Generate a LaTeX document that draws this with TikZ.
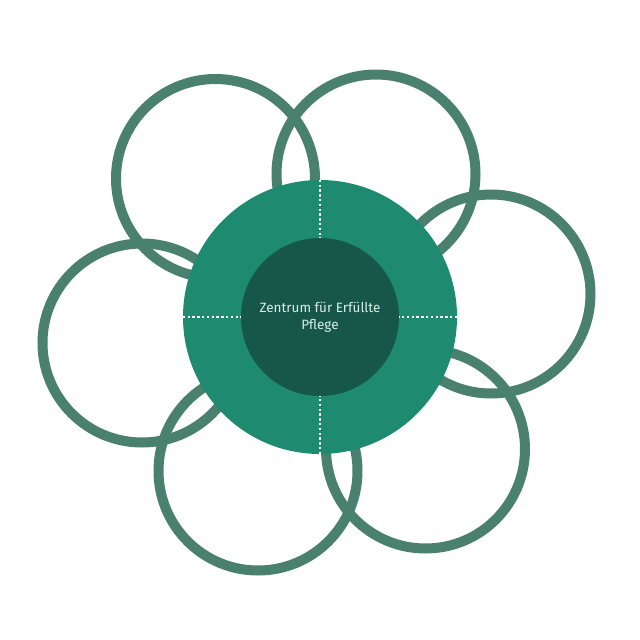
\documentclass[tikz,border=0pt]{standalone}
\usepackage{fontspec}
\setmainfont{Fira Sans}
\usepackage{tikz}

\definecolor{ringgreen}{HTML}{4A806E}
\definecolor{hubgreen}{HTML}{1E8A6F}
\definecolor{coregreen}{HTML}{17574A}
\definecolor{labelmint}{HTML}{D8EFE6}

\begin{document}
\begin{tikzpicture}[
        x=1pt,y=-1pt,
        ring/.style={circle,draw=ringgreen,line width=10pt,inner sep=0pt,minimum size=199pt},
        hub_disc/.style={circle,fill=hubgreen,inner sep=0pt,minimum size=274pt},
        core_disc/.style={circle,fill=coregreen,inner sep=0pt,minimum size=158pt,
            text=labelmint,align=center,font=\fontsize{13.5}{17}\selectfont},
        dotted_ray/.style={white,line width=2.4pt,dash pattern=on 2.4pt off 2.4pt}
    ]

    % Page frame
    \useasboundingbox (0,0) rectangle (640,640);

    % Outer rings
    \foreach \name/\cx/\cy in {ringTL/215.5/178.5, ringTR/376/174, ringR/491/294,
                               ringBR/425.5/449, ringBL/258/471, ringL/142/343}
        \node[ring] (\name) at (\cx,\cy) {};

    % Central discs
    \node[hub_disc] (hub) at (320,317) {};
    \node[core_disc] (core) at (320,317) {Zentrum für Erfüllte\\Pflege};

    % Dotted rays between the discs
    \foreach \side in {north,south,east,west}
        \draw[dotted_ray] (hub.\side) -- (core.\side);

\end{tikzpicture}
\end{document}
